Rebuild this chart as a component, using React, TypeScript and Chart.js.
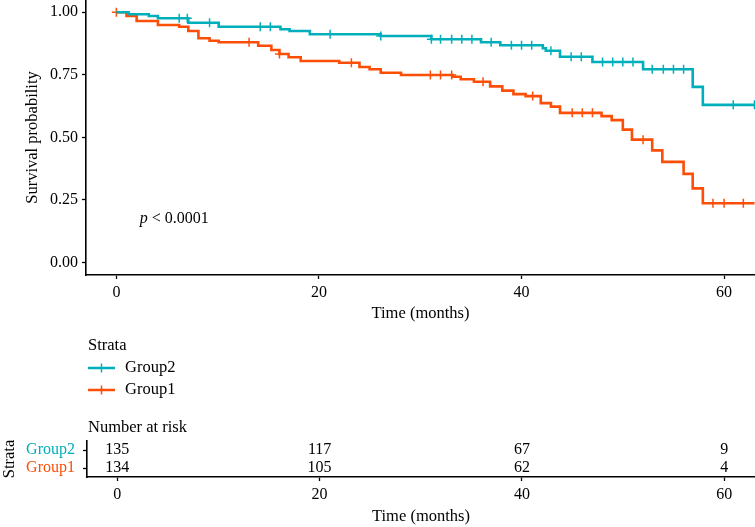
import { useEffect, useRef } from "react";
import { Chart, registerables } from "chart.js";

Chart.register(...registerables);

// Palette and type
const CYAN = "#00AFBB";
const ORANGE = "#FC4E07";
const FONT = "'Liberation Serif', 'Times New Roman', serif";

// Axis ticks
const timeTicks = [0, 20, 40, 60];
const survTicks = [0, 0.25, 0.5, 0.75, 1];
const strata = ["Group2", "Group1"];

// Kaplan-Meier steps, Group2 (months, survival after the step)
const group2Times = [0, 1.2, 3.2, 4.1, 7.1, 10.1, 16.2, 17.1, 19.1, 26.1, 31.1, 36.0, 37.9, 42.1, 42.4, 43.8, 47.0, 52.0, 56.9, 57.9, 63.0];
const group2Surv = [1.0, 0.992, 0.985, 0.976, 0.958, 0.942, 0.932, 0.925, 0.912, 0.905, 0.892, 0.88, 0.868, 0.856, 0.846, 0.822, 0.801, 0.772, 0.702, 0.63, 0.63];
const group2Censor = [6.2, 7.0, 9.2, 14.2, 15.2, 21.1, 26.1, 31.1, 32.0, 33.1, 34.1, 35.1, 37.0, 39.0, 40.0, 41.0, 42.9, 44.9, 45.9, 48.0, 49.0, 50.0, 51.0, 52.9, 54.0, 55.0, 56.0, 60.9, 63.0];

// Kaplan-Meier steps, Group1
const group1Times = [0, 1.0, 2.0, 4.1, 6.2, 7.1, 8.1, 9.2, 10.1, 14.0, 15.3, 16.1, 17.0, 18.2, 22.0, 24.0, 25.0, 26.1, 28.1, 33.2, 34.0, 35.3, 36.9, 38.1, 39.2, 40.4, 41.9, 42.9, 43.8, 47.9, 48.9, 50.0, 50.9, 52.9, 53.9, 56.0, 56.9, 57.9, 63.0];
const group1Surv = [1.0, 0.985, 0.965, 0.949, 0.942, 0.925, 0.896, 0.886, 0.88, 0.866, 0.849, 0.833, 0.82, 0.805, 0.798, 0.781, 0.772, 0.758, 0.749, 0.742, 0.732, 0.722, 0.704, 0.687, 0.673, 0.665, 0.637, 0.623, 0.598, 0.585, 0.569, 0.531, 0.491, 0.448, 0.402, 0.354, 0.296, 0.237, 0.237];
const group1Censor = [0, 13.1, 16.1, 23.2, 31.0, 32.0, 33.1, 36.2, 41.1, 45.0, 46.0, 47.0, 52.0, 58.9, 60.0, 61.9];

// Number at risk at each time tick
const riskGroup2 = [135, 117, 67, 9];
const riskGroup1 = [134, 105, 62, 4];

const pValueText = "< 0.0001";

function survivalAt(times: number[], surv: number[], t: number) {
  let s = surv[0];
  for (let i = 0; i < times.length; i++) if (times[i] <= t) s = surv[i];
  return s;
}

const fixTicks = (values: number[]) => (scale: any) => {
  scale.ticks = values.map((value) => ({ value }));
};

const noPad = (scale: any) => {
  scale.paddingTop = 0;
  scale.paddingBottom = 0;
  scale.paddingLeft = 0;
  scale.paddingRight = 0;
};

const axisGrid = {
  drawOnChartArea: false,
  drawTicks: true,
  tickLength: 4,
  tickColor: "#000",
  tickWidth: 1.3,
};
const axisBorder = { display: true, color: "#000", width: 1.6 };

export default function App() {
  const plotRef = useRef<HTMLCanvasElement | null>(null);
  const riskRef = useRef<HTMLCanvasElement | null>(null);

  useEffect(() => {
    document.body.style.margin = "0";
    Chart.defaults.font.family = FONT;
    Chart.defaults.color = "#000";

    const pValuePlugin = {
      id: "pValue",
      afterDraw(chart: any) {
        const { ctx, scales } = chart;
        const x = scales.x.getPixelForValue(2.3);
        const y = scales.y.getPixelForValue(0.173);
        ctx.save();
        ctx.fillStyle = "#000";
        ctx.textBaseline = "middle";
        ctx.textAlign = "left";
        ctx.font = `italic 16px ${FONT}`;
        ctx.fillText("p", x, y);
        const w = ctx.measureText("p ").width;
        ctx.font = `16px ${FONT}`;
        ctx.fillText(pValueText, x + w, y);
        ctx.restore();
      },
    };

    const strataLegendPlugin = {
      id: "strataLegend",
      afterDraw(chart: any) {
        const { ctx } = chart;
        const colors = [CYAN, ORANGE];
        ctx.save();
        ctx.textBaseline = "middle";
        ctx.textAlign = "left";
        ctx.fillStyle = "#000";
        ctx.font = `16.5px ${FONT}`;
        ctx.fillText("Strata", 88, 346);
        strata.forEach((name, i) => {
          const y = 368 + i * 22;
          ctx.strokeStyle = colors[i];
          ctx.lineWidth = 2.5;
          ctx.beginPath();
          ctx.moveTo(88, y);
          ctx.lineTo(115, y);
          ctx.stroke();
          ctx.lineWidth = 1.5;
          ctx.beginPath();
          ctx.moveTo(101.5, y - 4.5);
          ctx.lineTo(101.5, y + 4.5);
          ctx.stroke();
          ctx.fillStyle = "#000";
          ctx.fillText(name, 125, y);
        });
        ctx.restore();
      },
    };

    const plot = new Chart(plotRef.current!, {
      type: "line",
      data: {
        datasets: [
          {
            label: "Group2",
            data: group2Times.map((t, i) => ({ x: t, y: group2Surv[i] })),
            borderColor: CYAN,
            borderWidth: 2.6,
            stepped: true,
            pointRadius: 0,
            fill: false,
          },
          {
            label: "Group1",
            data: group1Times.map((t, i) => ({ x: t, y: group1Surv[i] })),
            borderColor: ORANGE,
            borderWidth: 2.6,
            stepped: true,
            pointRadius: 0,
            fill: false,
          },
          {
            label: "Group2 censored",
            data: group2Censor.map((t) => ({ x: t, y: survivalAt(group2Times, group2Surv, t) })),
            showLine: false,
            pointStyle: "cross",
            pointRadius: 4.5,
            borderColor: CYAN,
            pointBorderWidth: 1.5,
          },
          {
            label: "Group1 censored",
            data: group1Censor.map((t) => ({ x: t, y: survivalAt(group1Times, group1Surv, t) })),
            showLine: false,
            pointStyle: "cross",
            pointRadius: 4.5,
            borderColor: ORANGE,
            pointBorderWidth: 1.5,
          },
        ] as any,
      },
      options: {
        animation: false,
        responsive: false,
        events: [],
        layout: { autoPadding: false, padding: { bottom: 65 } },
        plugins: { legend: { display: false }, tooltip: { enabled: false } },
        scales: {
          x: {
            type: "linear",
            min: -3,
            max: 63.05,
            afterBuildTicks: fixTicks(timeTicks),
            afterFit: (s: any) => {
              s.height = 60;
              noPad(s);
            },
            grid: axisGrid,
            border: axisBorder,
            ticks: { color: "#000", font: { size: 16 }, padding: 4, maxRotation: 0, autoSkip: false },
            title: {
              display: true,
              text: "Time (months)",
              color: "#000",
              font: { size: 16.5 },
              padding: { top: 0, bottom: 11 },
            },
          },
          y: {
            type: "linear",
            min: -0.05,
            max: 1.049,
            afterBuildTicks: fixTicks(survTicks),
            afterFit: (s: any) => {
              s.width = 86;
              noPad(s);
            },
            grid: axisGrid,
            border: axisBorder,
            ticks: {
              color: "#000",
              font: { size: 16 },
              padding: 4,
              autoSkip: false,
              callback: (v: any) => Number(v).toFixed(2),
            },
            title: {
              display: true,
              text: "Survival probability",
              color: "#000",
              font: { size: 16.5 },
              padding: { top: 23, bottom: 0 },
            },
          },
        },
      },
      plugins: [pValuePlugin, strataLegendPlugin],
    });

    const riskPlugin = {
      id: "riskNumbers",
      afterDatasetsDraw(chart: any) {
        const { ctx } = chart;
        const tables = [riskGroup2, riskGroup1];
        ctx.save();
        ctx.fillStyle = "#000";
        ctx.textAlign = "center";
        ctx.textBaseline = "middle";
        ctx.font = `16px ${FONT}`;
        tables.forEach((values, di) => {
          const meta = chart.getDatasetMeta(di);
          meta.data.forEach((pt: any, i: number) => {
            ctx.fillText(String(values[i]), pt.x, pt.y);
          });
        });
        ctx.textAlign = "left";
        ctx.font = `16.5px ${FONT}`;
        ctx.fillText("Number at risk", 88, 28);
        ctx.restore();
      },
    };

    const risk = new Chart(riskRef.current!, {
      type: "line",
      data: {
        datasets: [
          {
            label: "Group2",
            data: timeTicks.map((t) => ({ x: t, y: strata[0] })),
            showLine: false,
            pointRadius: 0,
          },
          {
            label: "Group1",
            data: timeTicks.map((t) => ({ x: t, y: strata[1] })),
            showLine: false,
            pointRadius: 0,
          },
        ] as any,
      },
      options: {
        animation: false,
        responsive: false,
        events: [],
        layout: { autoPadding: false, padding: { top: 41 } },
        plugins: { legend: { display: false }, tooltip: { enabled: false } },
        scales: {
          x: {
            type: "linear",
            min: -3,
            max: 63.05,
            afterBuildTicks: fixTicks(timeTicks),
            afterFit: (s: any) => {
              s.height = 50;
              noPad(s);
            },
            grid: axisGrid,
            border: axisBorder,
            ticks: { color: "#000", font: { size: 16 }, padding: 4, maxRotation: 0, autoSkip: false },
            title: {
              display: true,
              text: "Time (months)",
              color: "#000",
              font: { size: 16.5 },
              padding: { top: 0, bottom: 0 },
            },
          },
          y: {
            type: "category",
            labels: strata,
            offset: true,
            afterFit: (s: any) => {
              s.width = 87;
              noPad(s);
            },
            grid: { ...axisGrid, offset: false },
            border: axisBorder,
            ticks: {
              font: { size: 16 },
              padding: 8,
              autoSkip: false,
              color: (c: any) => (c.index === 0 ? CYAN : ORANGE),
            },
            title: {
              display: true,
              text: "Strata",
              color: "#000",
              font: { size: 16.5 },
              padding: { top: 0, bottom: 0 },
            },
          },
        },
      },
      plugins: [riskPlugin],
    });

    return () => {
      plot.destroy();
      risk.destroy();
    };
  }, []);

  return (
    <div style={{ width: 755, height: 527, position: "relative", background: "#fff", overflow: "hidden" }}>
      <canvas ref={plotRef} width={755} height={400} style={{ display: "block" }} />
      <canvas ref={riskRef} width={755} height={127} style={{ display: "block" }} />
    </div>
  );
}
